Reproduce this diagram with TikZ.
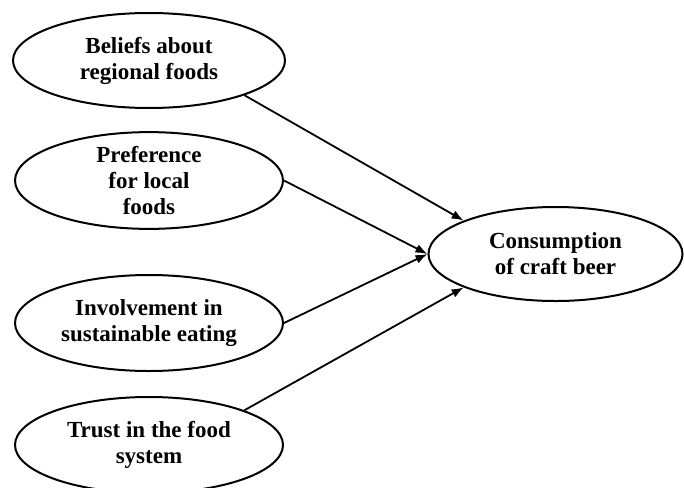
\documentclass[tikz,border=0pt]{standalone}
\usepackage{fontspec}
\setmainfont{Liberation Serif}
\usetikzlibrary{shapes.geometric,arrows.meta}
\tikzset{
  construct/.style={ellipse, draw, line width=1pt, inner sep=0pt, align=center,
    font=\fontsize{11.5}{13}\selectfont\bfseries},
  path/.style={line width=0.9pt, -{Latex[length=6pt,width=4.5pt]}}
}
\begin{document}
\begin{tikzpicture}[x=0.5pt,y=-0.5pt]
\useasboundingbox (0,0) rectangle (684,487);
\node[construct, minimum width=136pt, minimum height=47.5pt] (b1) at (149,60.5) {Beliefs about\\regional foods};
\node[construct, minimum width=134pt, minimum height=47.5pt] (b2) at (149,180.5) {Preference\\for local\\foods};
\node[construct, minimum width=134pt, minimum height=48pt] (b3) at (149,323) {Involvement in\\sustainable eating};
\node[construct, minimum width=134pt, minimum height=48pt] (b4) at (149,445) {Trust in the food\\system};
\node[construct, minimum width=127pt, minimum height=47pt] (c) at (555.5,254) {Consumption\\of craft beer};
\draw[path] (b1.-20) -- (c.160);
\draw[path] (b2.east) -- (c.west);
\draw[path] (b3.east) -- (c.west);
\draw[path] (b4.20) -- (c.-160);
\end{tikzpicture}
\end{document}
